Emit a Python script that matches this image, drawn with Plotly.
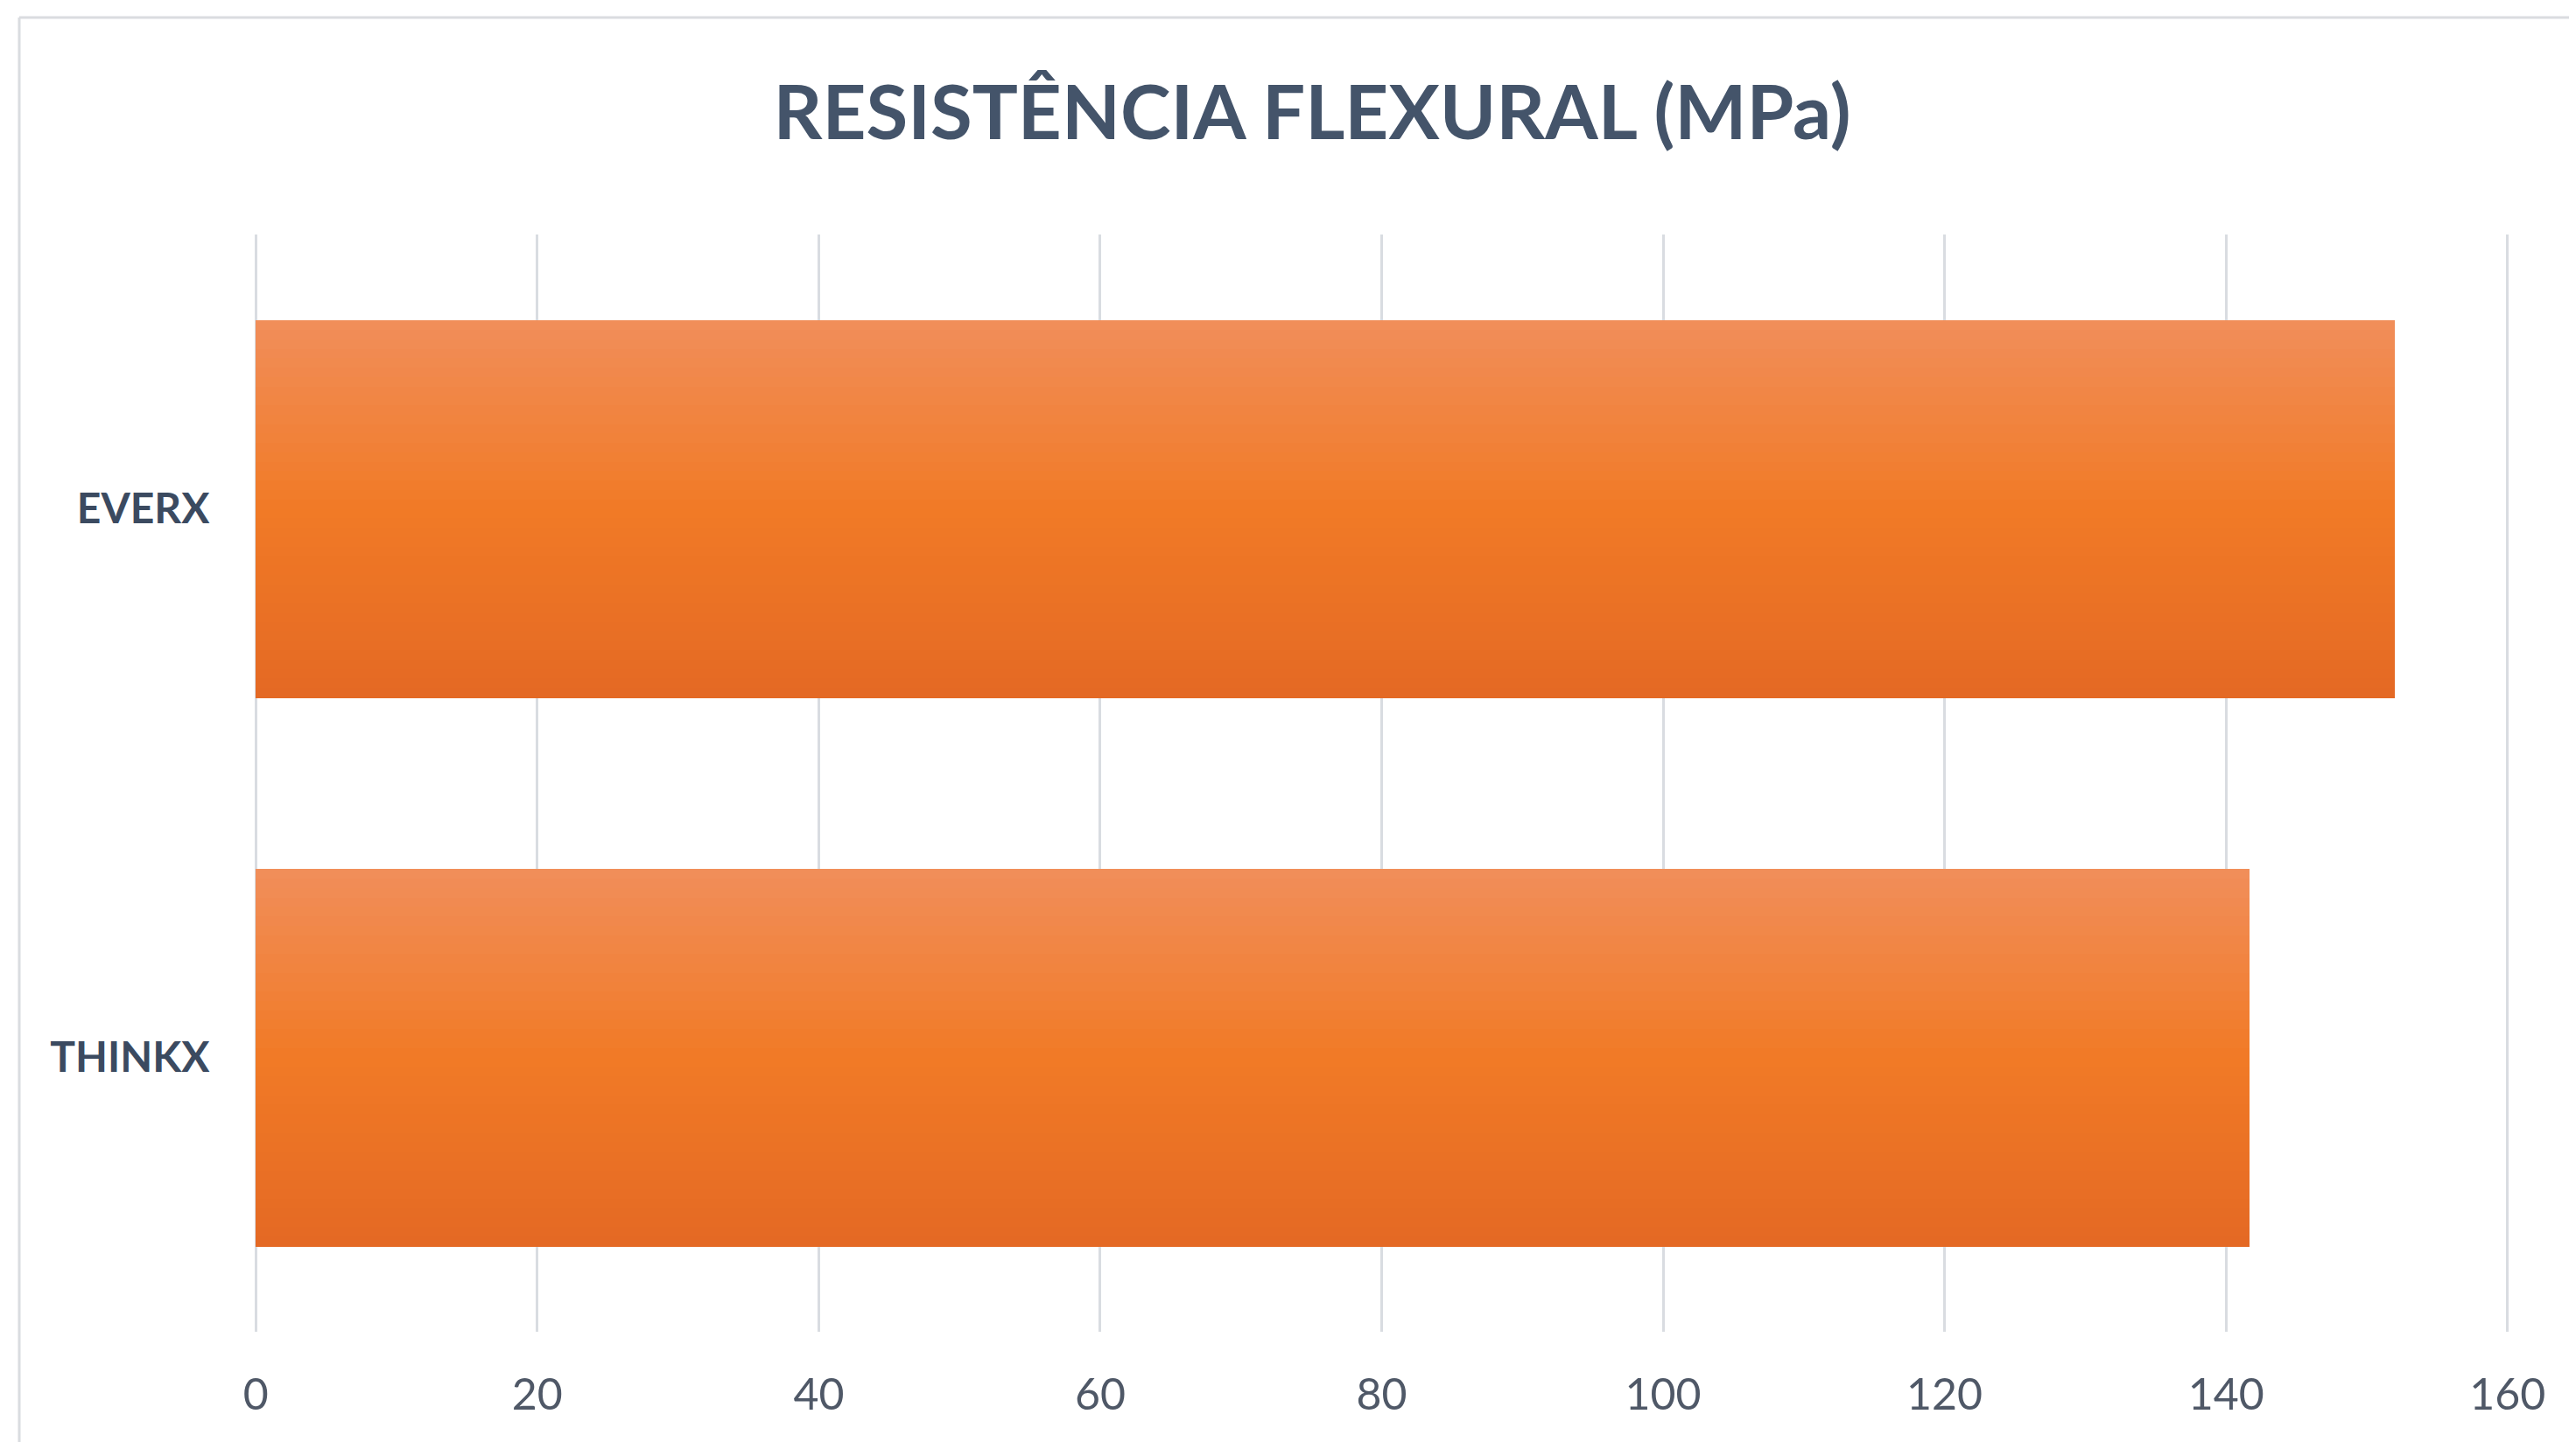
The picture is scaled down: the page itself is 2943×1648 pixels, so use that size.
import plotly.graph_objects as go

# ---- data ----
categories = ["EVERX", "THINKX"]
values = [152, 141.7]
x_ticks = [0, 20, 40, 60, 80, 100, 120, 140, 160]
title_text = "RESISTÊNCIA FLEXURAL (MPa)"

# ---- styling ----
OFF = 8  # page body margin
W, H = 2943 - OFF, 1648 - OFF
ml, mr, mt, mb = 291 - OFF, 77, 268 - OFF, 126
bar_thickness = 0.686
n_strips = 40

def hex2rgb(h):
    h = h.lstrip("#")
    return tuple(int(h[i:i + 2], 16) for i in (0, 2, 4))

stops = [(0.0, hex2rgb("#F18E5A")), (0.5, hex2rgb("#F17A26")), (1.0, hex2rgb("#E46924"))]

def color_at(t):
    for (t0, c0), (t1, c1) in zip(stops[:-1], stops[1:]):
        if t0 <= t <= t1:
            f = (t - t0) / (t1 - t0)
            c = [round(a + (b - a) * f) for a, b in zip(c0, c1)]
            return "rgb(%d,%d,%d)" % tuple(c)
    return "rgb(%d,%d,%d)" % stops[-1][1]

fig = go.Figure()
w = bar_thickness / n_strips
for i in range(n_strips):
    t = (i + 0.5) / n_strips
    fig.add_trace(go.Bar(
        y=categories, x=values, orientation="h",
        width=w * 1.1, offset=-bar_thickness / 2 + i * w,
        marker=dict(color=color_at(t), line=dict(width=0)),
        showlegend=False,
        hoverinfo="x+y" if i == n_strips // 2 else "skip",
    ))

plot_w = W - ml - mr
plot_h = H - mt - mb
px_x = lambda p: (p - OFF - ml) / plot_w
px_y = lambda p: (H - mb - (p - OFF)) / plot_h
border = "#DADCE0"
shapes = [
    dict(type="line", xref="paper", yref="paper", x0=px_x(22), x1=px_x(22),
         y0=px_y(1648 + 10), y1=px_y(20), line=dict(color=border, width=3)),
    dict(type="line", xref="paper", yref="paper", x0=px_x(22), x1=px_x(2943 + 10),
         y0=px_y(20), y1=px_y(20), line=dict(color=border, width=3)),
]

fig.update_layout(
    width=W, height=H,
    margin=dict(l=ml, r=mr, t=mt, b=mb, pad=0),
    paper_bgcolor="white", plot_bgcolor="white",
    barmode="overlay", bargap=0,
    title=dict(text="<b>" + title_text + "</b>", x=px_x(1499), xanchor="center",
               xref="paper",
               y=1 - (129 - OFF) / H, yanchor="middle",
               font=dict(family="Lato", size=87, color="#44546A")),
    shapes=shapes,
    xaxis=dict(range=[-0.08, 160.08], tickvals=x_ticks, ticktext=[str(v) for v in x_ticks],
               showgrid=True, gridcolor="#D9DCE1", gridwidth=3,
               zeroline=True, zerolinecolor="#D9DCE1", zerolinewidth=3, showline=False,
               ticks="outside", ticklen=28, tickcolor="rgba(0,0,0,0)",
               tickfont=dict(family="Lato", size=50, color="#4F5867")),
    yaxis=dict(categoryorder="array", categoryarray=categories,
               range=[1.5, -0.5], showgrid=False, zeroline=False, showline=False,
               ticks="outside", ticklen=41, tickcolor="rgba(0,0,0,0)",
               tickfont=dict(family="Lato", size=48, color="#3B4A60"),
               tickprefix="<b>", ticksuffix="</b>"),
)

fig.write_html("out.html")
